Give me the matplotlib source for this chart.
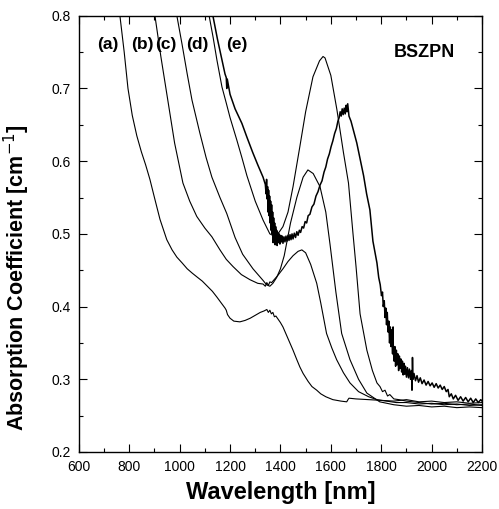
import matplotlib
matplotlib.use("Agg")
from matplotlib import pyplot as plt
from matplotlib.ticker import MultipleLocator

plt.rcParams['font.family'] = ['Liberation Sans', 'DejaVu Sans']

# (a)
xa = [763, 780, 795, 812, 830, 848, 865, 882, 900, 922, 949, 970, 989, 1010, 1030,
      1050, 1068, 1090, 1110, 1130, 1148, 1165, 1180, 1185, 1190, 1200, 1215, 1239,
      1260, 1280, 1300, 1320, 1335, 1346, 1352, 1358, 1364, 1370, 1376, 1382, 1390,
      1400, 1410, 1425, 1440, 1450, 1465, 1477, 1490, 1510, 1525, 1544, 1560, 1580,
      1608, 1640, 1663, 1668, 1672, 1700, 1750, 1800, 1850, 1900, 1950, 2000, 2050,
      2100, 2150, 2200]
ya = [0.800, 0.750, 0.700, 0.663, 0.635, 0.613, 0.595, 0.575, 0.550, 0.520, 0.492,
      0.478, 0.468, 0.460, 0.452, 0.446, 0.441, 0.435, 0.428, 0.421, 0.413, 0.405,
      0.398, 0.395, 0.389, 0.384, 0.380, 0.379, 0.381, 0.384, 0.388, 0.392, 0.394,
      0.396, 0.392, 0.395, 0.390, 0.392, 0.386, 0.387, 0.383, 0.378, 0.372, 0.360,
      0.348, 0.340, 0.327, 0.317, 0.308, 0.297, 0.290, 0.285, 0.280, 0.276, 0.272,
      0.270, 0.269, 0.272, 0.274, 0.273, 0.272, 0.271, 0.270, 0.272, 0.269, 0.270,
      0.268, 0.269, 0.267, 0.268]

# (b)
xb = [902, 925, 953, 980, 1013, 1040, 1068, 1100, 1128, 1160, 1185, 1212, 1245, 1279,
      1310, 1331, 1340, 1346, 1352, 1358, 1365, 1375, 1390, 1410, 1430, 1450, 1470,
      1485, 1500, 1520, 1544, 1560, 1583, 1604, 1623, 1650, 1676, 1710, 1750, 1783,
      1820, 1860, 1900, 1950, 2000, 2050, 2100, 2150, 2200]
yb = [0.800, 0.745, 0.684, 0.625, 0.570, 0.545, 0.524, 0.508, 0.496, 0.478, 0.465,
      0.455, 0.444, 0.437, 0.432, 0.431, 0.428, 0.433, 0.429, 0.434, 0.433, 0.437,
      0.443, 0.452, 0.462, 0.470, 0.476, 0.478, 0.474, 0.458, 0.432, 0.405, 0.363,
      0.343, 0.327, 0.309, 0.295, 0.283, 0.276, 0.272, 0.270, 0.268, 0.268, 0.266,
      0.267, 0.265, 0.266, 0.264, 0.265]

# (c)
xc = [989, 1010, 1030, 1049, 1080, 1105, 1128, 1160, 1187, 1220, 1250, 1291, 1331,
      1345, 1358, 1370, 1385, 1400, 1415, 1440, 1465, 1490, 1509, 1530, 1557, 1580,
      1597, 1620, 1643, 1676, 1710, 1743, 1794, 1850, 1900, 1950, 2000, 2050, 2100,
      2150, 2200]
yc = [0.800, 0.760, 0.720, 0.684, 0.639, 0.605, 0.578, 0.550, 0.528, 0.495, 0.472,
      0.452, 0.436, 0.430, 0.428, 0.432, 0.440, 0.452, 0.470, 0.515, 0.550, 0.578,
      0.588, 0.583, 0.565, 0.530, 0.485, 0.420, 0.363, 0.327, 0.300, 0.281, 0.269,
      0.265, 0.263, 0.264, 0.262, 0.263, 0.261, 0.262, 0.261]

# (d)
xd = [1117, 1133, 1148, 1168, 1185, 1200, 1227, 1247, 1267, 1300, 1331, 1358, 1375,
      1390, 1410, 1430, 1450, 1477, 1500, 1529, 1555, 1569, 1577, 1600, 1624, 1650,
      1670, 1688, 1700, 1716, 1743, 1765, 1783, 1795, 1805, 1815, 1825, 1834, 1850,
      1870, 1900, 1950, 2000, 2050, 2100, 2150, 2200]
yd = [0.800, 0.770, 0.739, 0.702, 0.680, 0.660, 0.629, 0.605, 0.580, 0.545, 0.519,
      0.500, 0.497, 0.500, 0.510, 0.530, 0.565, 0.620, 0.668, 0.716, 0.738, 0.744,
      0.742, 0.718, 0.671, 0.612, 0.570, 0.500, 0.455, 0.390, 0.340, 0.312, 0.295,
      0.290, 0.283, 0.285, 0.277, 0.279, 0.273, 0.272, 0.270, 0.268, 0.266, 0.267,
      0.265, 0.266, 0.264]

# (e)
xe = [1132, 1150, 1168, 1180, 1185, 1187, 1189, 1200, 1220, 1247, 1267, 1290, 1310,
      1331, 1340, 1343, 1345, 1347, 1349, 1351, 1353, 1355, 1357, 1359, 1361, 1363,
      1365, 1367, 1369, 1371, 1373, 1375, 1377, 1379, 1381, 1383, 1385, 1387, 1389,
      1392, 1395, 1398, 1401, 1404, 1407, 1410, 1414, 1418, 1422, 1426, 1430, 1434,
      1438, 1442, 1446, 1450, 1455, 1460, 1465, 1470, 1475, 1480, 1486, 1492, 1498,
      1504, 1510, 1517, 1525, 1533, 1541, 1549, 1557, 1565, 1573, 1580, 1587, 1594,
      1601, 1608, 1615, 1622, 1628, 1633, 1637, 1641, 1645, 1649, 1653, 1657, 1661,
      1664, 1667, 1672, 1680, 1690, 1703, 1715, 1730, 1742, 1755, 1767, 1775, 1783,
      1790, 1796, 1801, 1805, 1808, 1812, 1815, 1818, 1821, 1824, 1827, 1830, 1833,
      1836, 1839, 1842, 1845, 1847, 1848, 1851, 1854, 1857, 1860, 1863, 1866, 1869,
      1872, 1875, 1878, 1881, 1884, 1887, 1890, 1893, 1896, 1900, 1904, 1908, 1912,
      1916, 1920, 1922, 1924, 1926, 1930, 1936, 1942, 1948, 1955, 1962, 1970, 1978,
      1986, 1994, 2002, 2010, 2018, 2026, 2034, 2042, 2050, 2058, 2065, 2070, 2078,
      2086, 2095, 2105, 2115, 2125, 2135, 2145, 2155, 2165, 2175, 2185, 2195, 2200]
ye = [0.800, 0.768, 0.739, 0.720, 0.715, 0.700, 0.713, 0.692, 0.672, 0.652, 0.633,
      0.612, 0.595, 0.578, 0.568, 0.555, 0.575, 0.548, 0.565, 0.530, 0.560, 0.525,
      0.552, 0.515, 0.545, 0.505, 0.540, 0.500, 0.530, 0.488, 0.522, 0.495, 0.515,
      0.485, 0.510, 0.490, 0.505, 0.484, 0.502, 0.488, 0.500, 0.486, 0.498, 0.489,
      0.497, 0.487, 0.496, 0.489, 0.497, 0.490, 0.498, 0.491, 0.499, 0.492, 0.500,
      0.493, 0.501, 0.495, 0.503, 0.498, 0.505, 0.502, 0.510, 0.508, 0.517, 0.515,
      0.525, 0.527, 0.537, 0.541, 0.552, 0.558, 0.567, 0.573, 0.585, 0.592, 0.603,
      0.610, 0.620, 0.628, 0.638, 0.645, 0.655, 0.660, 0.668, 0.662, 0.672, 0.664,
      0.673, 0.665, 0.677, 0.668, 0.679, 0.662, 0.655, 0.642, 0.625, 0.605, 0.580,
      0.555, 0.533, 0.490, 0.475, 0.460, 0.440, 0.430, 0.415, 0.420, 0.400, 0.408,
      0.385, 0.398, 0.375, 0.392, 0.365, 0.380, 0.350, 0.372, 0.345, 0.368, 0.335,
      0.372, 0.340, 0.325, 0.345, 0.318, 0.340, 0.320, 0.335, 0.312, 0.332, 0.315,
      0.328, 0.310, 0.325, 0.306, 0.322, 0.307, 0.318, 0.303, 0.316, 0.302, 0.314,
      0.300, 0.312, 0.285, 0.330, 0.300, 0.308, 0.298, 0.305, 0.296, 0.302, 0.294,
      0.299, 0.292, 0.297, 0.291, 0.295, 0.289, 0.294, 0.288, 0.292, 0.286, 0.290,
      0.283, 0.286, 0.276, 0.280, 0.273, 0.278, 0.271, 0.276, 0.270, 0.275, 0.269,
      0.274, 0.268, 0.273, 0.268, 0.272, 0.270]

labels = ["(a)", "(b)", "(c)", "(d)", "(e)"]
label_x = [714, 852, 945, 1070, 1227]
label_y = 0.76

fig = plt.figure(figsize=(4.99, 5.09), dpi=100)
ax = fig.add_axes([0.158, 0.112, 0.808, 0.857])

for xs, ys, lw in [(xa, ya, 0.8), (xb, yb, 0.8), (xc, yc, 0.8), (xd, yd, 0.8), (xe, ye, 1.1)]:
    ax.plot(xs, ys, color="black", lw=lw)

for lab, lx in zip(labels, label_x):
    ax.text(lx, label_y, lab, fontsize=12.5, fontweight="bold", ha="center", va="center")
ax.text(1970, 0.750, "BSZPN", fontsize=13, fontweight="bold", ha="center", va="center")

ax.set_xlim(600, 2200)
ax.set_ylim(0.2, 0.8)
ax.xaxis.set_major_locator(MultipleLocator(200))
ax.xaxis.set_minor_locator(MultipleLocator(100))
ax.yaxis.set_major_locator(MultipleLocator(0.1))
ax.yaxis.set_minor_locator(MultipleLocator(0.05))
ax.tick_params(which="both", direction="in", top=True, right=True, width=0.8, labelsize=10)
ax.tick_params(which="major", length=6)
ax.tick_params(which="minor", length=3)
ax.tick_params(axis="x", pad=6)
ax.tick_params(axis="y", pad=6)
for sp in ax.spines.values():
    sp.set_linewidth(1.0)

ax.set_xlabel("Wavelength [nm]", fontsize=17, fontweight="bold", labelpad=5)
ax.set_ylabel("Absorption Coefficient [cm$^{-1}$]", fontsize=15.5, fontweight="bold")
ax.yaxis.set_label_coords(-0.115, 0.40)

plt.savefig("out.png", dpi=100)
